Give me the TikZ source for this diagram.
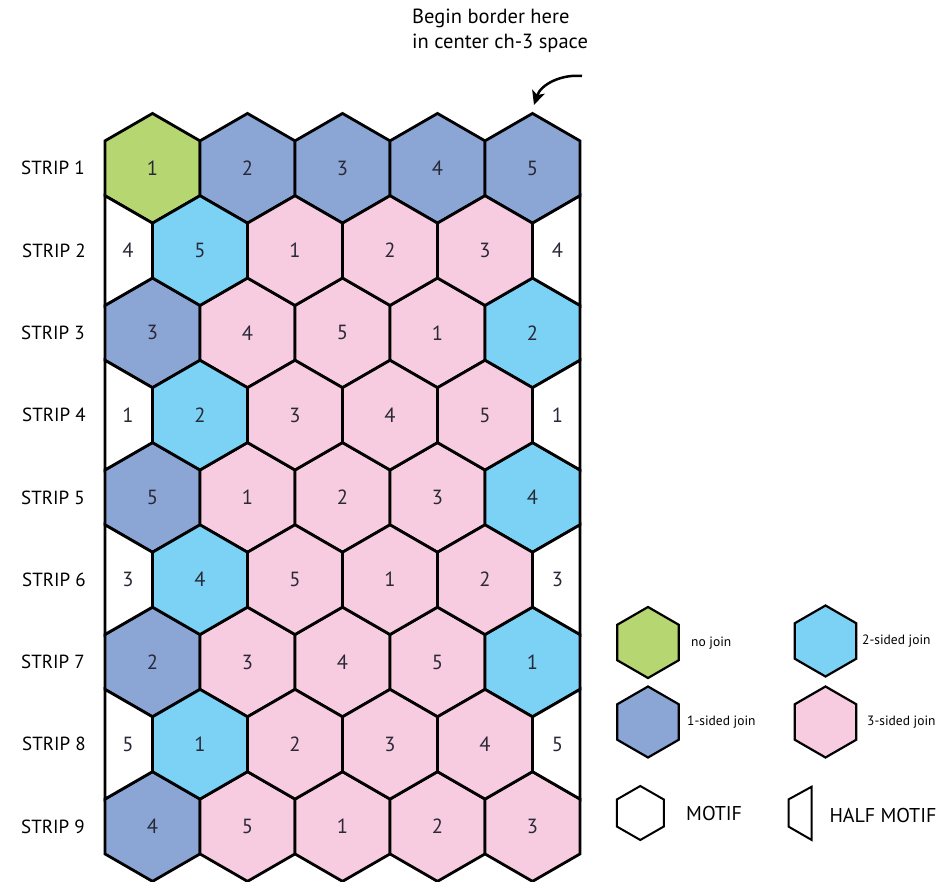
\documentclass[tikz,border=0pt]{standalone}
\usepackage{fontspec}
\setmainfont{PT Sans}
\usetikzlibrary{arrows.meta}
\definecolor{cgreen}{RGB}{181,214,112}
\definecolor{cblue}{RGB}{139,165,213}
\definecolor{ccyan}{RGB}{124,210,245}
\definecolor{cpink}{RGB}{247,204,224}
\definecolor{digitcol}{RGB}{40,40,55}
\newcommand\hexshape[5]{\filldraw[#5] (#1,#2-#3) -- (#1+#4,#2-#3/2) -- (#1+#4,#2+#3/2) -- (#1,#2+#3) -- (#1-#4,#2+#3/2) -- (#1-#4,#2-#3/2) -- cycle;}
\newcommand\hexcell[5]{%
  \hexshape{#1}{#2}{54.85}{47.5}{cell,fill=#3}
  \node[digit] (#5) at (#1,#2) {#4};}
\tikzset{
  cell/.style={draw=black, line width=2.8pt, line join=miter},
  digit/.style={font=\fontsize{20.5}{24}\selectfont, text=digitcol, inner sep=0pt},
  striplabel/.style={font=\fontsize{19}{22}\selectfont, anchor=west, inner sep=0pt},
  note/.style={font=\fontsize{20.5}{25}\selectfont, anchor=base west, inner sep=0pt},
  legtext/.style={font=\fontsize{13.5}{16}\selectfont, anchor=west, inner sep=0pt},
  motiftext/.style={font=\fontsize{20}{24}\selectfont, anchor=west, inner sep=0pt},
  leghex/.style={draw=black, line width=2.2pt, line join=miter},
  motif/.style={draw=black, line width=2pt, fill=white, line join=miter},
  arrowline/.style={line width=2.5pt, -{Stealth[length=14pt,width=13pt,inset=3.5pt]}}
}
\begin{document}
\begin{tikzpicture}[x=1pt,y=-1pt]
\useasboundingbox (0,0) rectangle (951,882);
% odd strips
\foreach \r/\cells in {1/{1/cgreen,2/cblue,3/cblue,4/cblue,5/cblue},
                       3/{3/cblue,4/cpink,5/cpink,1/cpink,2/ccyan},
                       5/{5/cblue,1/cpink,2/cpink,3/cpink,4/ccyan},
                       7/{2/cblue,3/cpink,4/cpink,5/cpink,1/ccyan},
                       9/{4/cblue,5/cpink,1/cpink,2/cpink,3/cpink}}{
  \pgfmathsetmacro\cy{168.3+82.275*(\r-1)}
  \foreach \lab/\col [count=\i] in \cells {
    \pgfmathsetmacro\cx{57.5+95*\i}
    \hexcell{\cx}{\cy}{\col}{\lab}{s\r c\i}
  }
  \node[striplabel] (lab\r) at (21,\cy) {STRIP \r};
}
% even strips
\foreach \r/\hl/\cells in {2/4/{5/ccyan,1/cpink,2/cpink,3/cpink},
                           4/1/{2/ccyan,3/cpink,4/cpink,5/cpink},
                           6/3/{4/ccyan,5/cpink,1/cpink,2/cpink},
                           8/5/{1/ccyan,2/cpink,3/cpink,4/cpink}}{
  \pgfmathsetmacro\cy{168.3+82.275*(\r-1)}
  \filldraw[cell, fill=white] (105,\cy-54.85) -- (152.5,\cy-27.425) -- (152.5,\cy+27.425) -- (105,\cy+54.85) -- cycle;
  \node[digit] (s\r L) at (128,\cy) {\hl};
  \filldraw[cell, fill=white] (580,\cy-54.85) -- (532.5,\cy-27.425) -- (532.5,\cy+27.425) -- (580,\cy+54.85) -- cycle;
  \node[digit] (s\r R) at (557.5,\cy) {\hl};
  \foreach \lab/\col [count=\i] in \cells {
    \pgfmathsetmacro\cx{105+95*\i}
    \hexcell{\cx}{\cy}{\col}{\lab}{s\r c\i}
  }
  \node[striplabel] (lab\r) at (22,\cy) {STRIP \r};
}
% note and arrow
\node[note] (note1) at (412,24) {Begin border here};
\node[note] (note2) at (412,49) {in center ch-3 space};
\coordinate (arrS) at (582,76);
\coordinate (arrE) at (534,105);
\draw[arrowline] (arrS) .. controls (562,74) and (541,84) .. (arrE);
% legend
\hexshape{648}{642.5}{35.5}{30.75}{leghex,fill=cgreen}
\node[legtext] (lgNo) at (691,643) {no join};
\hexshape{825.5}{641}{35.5}{30.75}{leghex,fill=ccyan}
\node[legtext] (lgTwo) at (862,641.5) {2-sided join};
\hexshape{648}{722}{35.5}{30.75}{leghex,fill=cblue}
\node[legtext] (lgOne) at (687,722) {1-sided join};
\hexshape{825.5}{722}{35.5}{30.75}{leghex,fill=cpink}
\node[legtext] (lgThree) at (867,722) {3-sided join};
\hexshape{640.3}{813}{27}{23.5}{motif}
\node[motiftext] (lgMotif) at (686,813) {MOTIF};
\draw[motif] (811.7,786.7) -- (788.7,799.3) -- (788.7,826.7) -- (811.7,840) -- cycle;
\node[motiftext] (lgHalf) at (829.3,815.5) {HALF MOTIF};
\end{tikzpicture}
\end{document}
